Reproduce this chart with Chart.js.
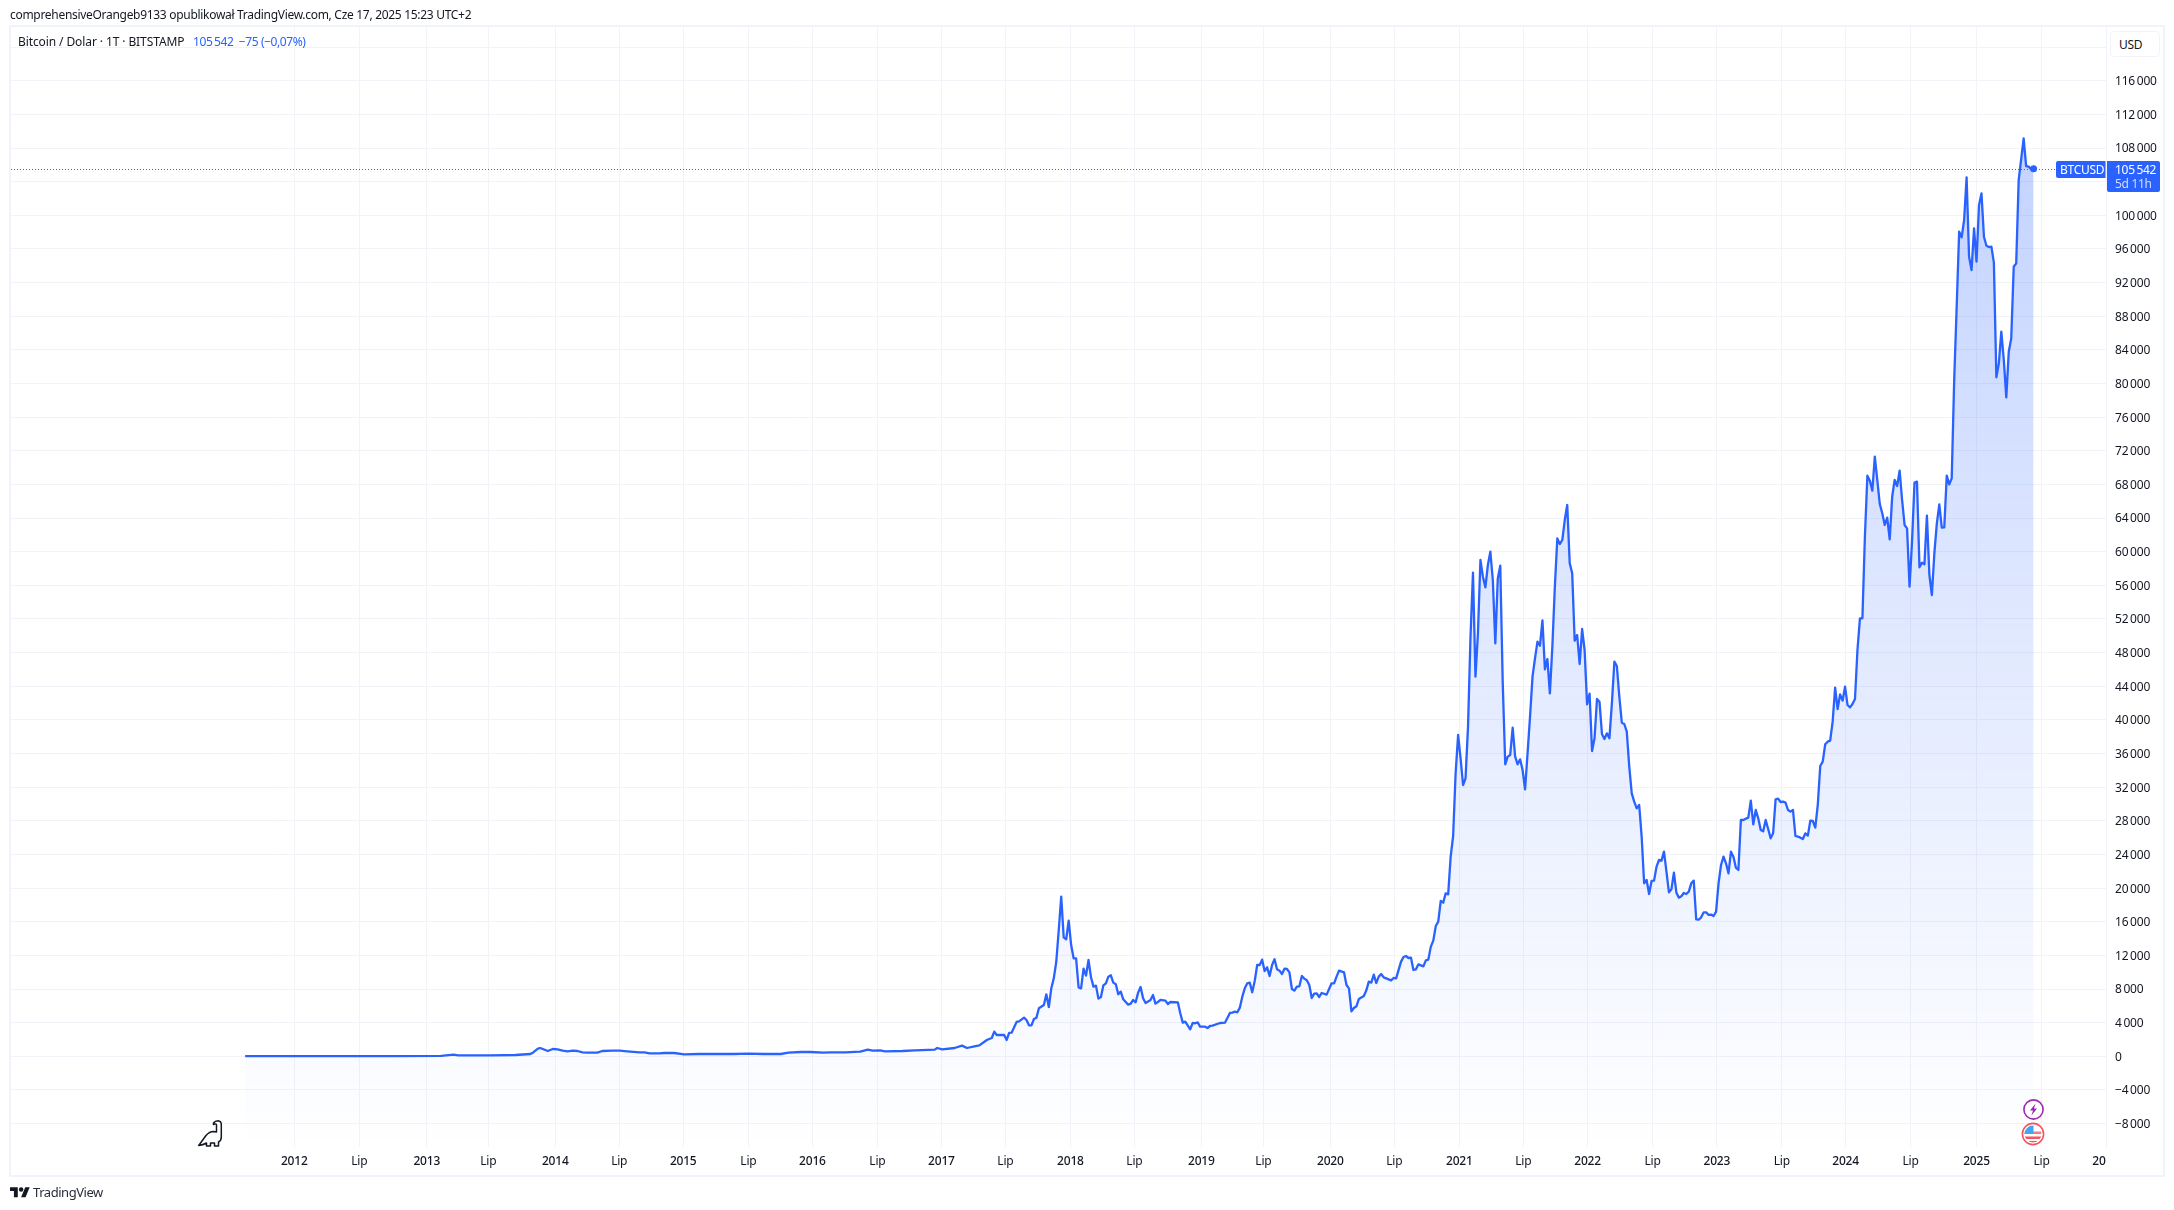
<!DOCTYPE html>
<html lang="pl">
<head>
<meta charset="utf-8">
<title>BTCUSD</title>
<script src="https://cdn.jsdelivr.net/npm/chart.js@4/dist/chart.umd.min.js"></script>
<style>
  html, body { margin: 0; padding: 0; background: #fff; }
  body { position: relative; width: 2174px; height: 1210px; overflow: hidden; font-family: "Noto Sans", sans-serif; color: #131722; }
  canvas { position: absolute; left: 0; top: 0; }
  .frame { position: absolute; left: 9px; top: 25px; width: 2152px; height: 1148px; border: 2px solid #f0f3fa; }
  .txt { position: absolute; white-space: pre; font-size: 12px; line-height: 16px; }
  .btn { position: absolute; left: 2110px; top: 31px; width: 48px; height: 24px; border: 1px solid #f0f3fa; border-radius: 4px; font-size: 12px; line-height: 26px; text-indent: 8px; letter-spacing: -0.3px; background: #fff; }
  svg { position: absolute; overflow: visible; }
</style>
</head>
<body>
<div class="frame"></div>
<canvas id="chart" width="2174" height="1210"></canvas>
<div class="txt" style="left:10px;top:7px;letter-spacing:-0.3px">comprehensiveOrangeb9133 opublikował TradingView.com, Cze 17, 2025 15:23 UTC+2</div>
<div class="txt" style="left:18px;top:34px;letter-spacing:-0.1px">Bitcoin / Dolar · 1T · BITSTAMP</div>
<div class="txt" style="left:193px;top:34px;color:#2962ff;letter-spacing:-0.4px">105&#8201;542  −75 (−0,07%)</div>
<div class="btn">USD</div>
<div class="txt" style="left:33px;top:1183px;font-size:13px;line-height:18px;letter-spacing:-0.45px;color:#2a2e39">TradingView</div>

<!-- dino -->
<svg style="left:198px;top:1120px" width="25" height="27" viewBox="0 0 25 27">
  <path d="M0.7 25.5 L8 15.5 Q11.5 11.5 15.5 11.5 L18.5 12 L18.5 5 Q18.5 3.5 17 4 L15.5 4.5 L15.5 3 Q17 0.8 20 0.8 Q23.3 1 23.3 5 L23.3 17 Q23.3 20.5 20.5 22 L20.5 26 L16.5 26 L16.5 23 L12.5 23 L12.5 26 L8.5 26 L8.5 23 Q5 25 0.7 25.5 Z" fill="#fff" stroke="#131722" stroke-width="1.5" stroke-linejoin="round"/>
</svg>
<!-- tradingview logo -->
<svg style="left:10px;top:1185px" width="20" height="15.5" viewBox="0 0 36 28">
  <path d="M14 22H7V11H0V4h14v18zM28 22h-8l7.5-18h8L28 22z" fill="#131722"/><circle cx="20" cy="8" r="4" fill="#131722"/>
</svg>
<!-- event markers -->
<svg style="left:2022px;top:1098px" width="23" height="23" viewBox="0 0 23 23">
  <circle cx="11.5" cy="11.5" r="9.6" fill="#fff" stroke="#9c27b0" stroke-width="1.6"/>
  <path d="M13.5 5.5 L8 12.5 L11 12.5 L9.5 17.5 L15 10.5 L12 10.5 Z" fill="#9c27b0"/>
</svg>
<svg style="left:2021px;top:1122px" width="24" height="24" viewBox="0 0 24 24">
  <clipPath id="flagClip"><circle cx="12" cy="12" r="8.5"/></clipPath>
  <circle cx="12" cy="12" r="10.6" fill="#fff" stroke="#f7525f" stroke-width="1.6"/>
  <g clip-path="url(#flagClip)">
    <rect x="3" y="3" width="18" height="18" fill="#fff"/>
    <rect x="3" y="9.5" width="18" height="2.5" fill="#f77c80"/>
    <rect x="3" y="14.5" width="18" height="2.5" fill="#f7525f"/>
    <rect x="3" y="19" width="18" height="2.5" fill="#f7525f"/>
    <rect x="3" y="3" width="9.5" height="9" fill="#42a5f5"/>
  </g>
</svg>

<script>
// Weekly BTC close. Flat stretches keep only their corner weeks.
const lowWeeks = [1, 12, 30, 60, 80, 82, 85, 87, 100, 110, 116, 117, 119, 120, 122, 123, 125, 127, 129, 131,
  133, 135, 137, 139, 143, 145, 149, 152, 155, 160, 162, 164, 168, 170, 174, 178, 184, 191, 198, 204,
  210, 217, 220, 225, 229, 234, 237, 243, 249, 252, 254, 257, 259, 266, 271, 279, 280, 282, 287, 290,
  292, 295, 297, 300, 302, 303, 304];
const lowPrices = [30, 10, 15, 30, 40, 115, 195, 115, 100, 155, 274, 432, 908, 987, 749, 630, 868, 828, 670, 591,
  670, 630, 472, 432, 432, 630, 670, 670, 591, 472, 472, 353, 353, 393, 393, 234, 274, 274, 274, 313,
  274, 274, 432, 512, 512, 432, 472, 472, 551, 789, 670, 710, 591, 630, 710, 789, 987, 829, 987, 1265,
  987, 1185, 1304, 1938, 2176, 2929, 2533];

const midWeeks = [305, 307, 308, 309, 310, 312, 313, 315, 316, 317, 318, 319, 320, 321, 323, 324, 325, 326, 327, 328,
  329, 330, 331, 332, 333, 334, 335, 336, 337, 338, 339, 340, 341, 342, 343, 344, 345, 346, 347, 348,
  349, 350, 351, 352, 353, 354, 355, 356, 357, 358, 359, 360, 361, 362, 363, 364, 366, 367, 368, 369,
  370, 372, 373, 374, 377, 378, 379, 380, 382, 383, 384, 385, 386, 388, 389, 390, 391, 394, 396, 398,
  399, 400, 401, 402, 403, 404, 405, 406, 407, 408, 409, 410, 411, 412, 413, 414, 415, 416, 417, 418,
  419, 420, 421, 422, 423, 424, 425, 426, 427, 428, 429, 430, 431, 432, 433, 434, 435, 437, 439, 440,
  441, 442, 444, 445, 446, 447, 448, 449, 450, 452, 453, 454, 455, 456, 457, 458, 459, 460, 462, 463,
  464, 465, 467, 468, 469, 470, 471, 472, 473, 474, 476, 477, 478, 479, 480, 481, 482, 483, 484, 485, 486];
const midPrices = [2535, 2535, 1941, 2773, 2813, 4081, 4160, 4596, 4319, 3685, 3685, 4437, 4596, 5706, 6102, 7370, 5864, 8083, 9272, 11245,
  15019, 18982, 14147, 13909, 16128, 13235, 11650, 11650, 8202, 8083, 10422, 9590, 11452, 9391, 8282, 8400, 6855, 7053, 8440, 8678,
  9470, 9629, 8757, 8559, 7370, 7687, 6776, 6459, 6141, 6260, 6696, 6419, 7568, 8242, 6895, 6340, 6696, 7291, 6260, 6459,
  6696, 6617, 6220, 6459, 6419, 5111, 4001, 4121, 3209, 3962, 3923, 4041, 3526, 3526, 3367, 3605, 3645, 3962, 4001, 5151,
  5190, 5309, 5230, 5785, 7092, 8083, 8678, 8757, 7608, 8956, 10858, 10858, 11492, 10144, 10580, 9550, 10858, 11532, 10342, 10184,
  9788, 10422, 10382, 9986, 8005, 7806, 8282, 8321, 9550, 9233, 9035, 8480, 6934, 7450, 7489, 7053, 7529, 7331, 8678, 8678,
  9470, 10184, 9986, 8480, 8083, 5349, 5745, 5944, 6815, 7172, 7846, 8876, 8757, 9708, 8718, 9470, 9788, 9391, 9153, 9035,
  9312, 9272, 11254, 11809, 11928, 11690, 11729, 10263, 10342, 10936, 10699, 11412, 11492, 13037, 13751, 15494, 16009, 18466, 18268, 19378, 19259];

const peakWeeks = [487, 488, 489, 490, 491, 492, 493, 494, 495, 496, 497, 498, 499, 500, 501, 502, 503, 504, 505, 506,
  507, 508, 509, 510, 511, 512, 513, 514, 515, 516, 517, 518, 519, 520, 521, 522, 523, 524, 525, 526,
  527, 528, 529, 530, 531, 532, 533, 534, 535, 536, 537, 538, 539, 540, 541, 542, 543, 544, 545, 546,
  547, 548, 549, 550, 551, 552, 553, 554, 555, 556, 557, 558, 559, 560, 561, 562, 563, 564, 565, 566,
  567, 568, 569, 570, 571, 572, 573, 574, 575, 576, 577, 578, 579, 580, 581, 582, 583, 584, 585];
const peakPrices = [23740, 26196, 33648, 38205, 35431, 32261, 33053, 39196, 49896, 57505, 45140, 50292, 59011, 57030, 55761, 58416, 60002, 56633, 49103, 56831,
  58337, 44348, 34717, 35629, 35827, 39077, 35629, 34717, 35312, 34043, 31745, 36026, 40385, 45140, 47320, 49302, 48826, 51838, 46012, 47241,
  43159, 48707, 55840, 61587, 60913, 61389, 63767, 65550, 58615, 57426, 49420, 50094, 46647, 50807, 48311, 41851, 43119, 36303, 37809, 42485,
  42168, 38324, 37730, 38404, 37809, 41970, 46923, 46409, 42762, 39672, 39513, 38602, 34440, 31270, 30279, 29487, 29883, 26118, 20569, 20965,
  19301, 20846, 20886, 22551, 23343, 23264, 24334, 21956, 19499, 19855, 21837, 19460, 18866, 19024, 19420, 19301, 19579, 20569, 20886];

const riseWeeks = [586, 587, 588, 589, 590, 591, 592, 593, 594, 595, 596, 597, 598, 599, 600, 601, 602, 603, 604, 605,
  606, 607, 608, 609, 610, 611, 612, 613, 614, 615, 616, 617, 618, 619, 620, 621, 622, 623, 624, 625,
  626, 627, 628, 629, 630, 631, 632, 633, 634, 635, 636, 637, 638, 639, 640, 641, 642, 643, 644, 645,
  646, 647, 648, 649, 650, 651];
const risePrices = [16288, 16250, 16527, 17120, 17120, 16804, 16845, 16685, 17199, 20568, 22748, 23738, 22945, 21757, 24333, 23738, 22431, 22154, 28098, 28098,
  28256, 28375, 30396, 27583, 29287, 28296, 26909, 26750, 28098, 27028, 25918, 26513, 30555, 30634, 30238, 30278, 30159, 29287, 29089, 29287,
  26195, 26116, 25997, 25839, 26513, 26236, 28018, 27979, 27187, 29881, 34518, 35033, 37094, 37411, 37530, 39788, 43831, 41295, 43038, 42285,
  43950, 41770, 41493, 41889, 42484, 48309];

const topWeeks = [652, 653, 654, 655, 656, 657, 658, 659, 660, 661, 662, 663, 664, 665, 666, 667, 668, 669, 670, 671,
  672, 673, 674, 675, 676, 677, 678, 679, 680, 681, 682, 683, 684, 685, 686, 687, 688, 689, 690, 691,
  692, 693, 694, 695, 696, 697, 698, 699, 700, 701, 702, 703, 704, 705, 706, 707, 708, 709, 710, 711,
  712, 713, 714, 715, 716, 718, 719, 720, 721, 722];
const topPrices = [52079, 52079, 61788, 69040, 68446, 67257, 71299, 68525, 65672, 64563, 63177, 64048, 61472, 66544, 68525, 67812, 69635, 66148, 63177, 62779,
  55844, 61194, 68208, 68327, 58142, 58698, 58500, 64284, 57231, 54853, 59807, 63373, 65632, 62858, 62897, 69040, 68010, 68723, 80414, 89133,
  98050, 97376, 99437, 104510, 95078, 93492, 98446, 94483, 101220, 102607, 97455, 96385, 96227, 96267, 94364, 80732, 82396, 86161, 82792, 78354,
  83783, 85369, 93889, 94285, 104193, 109146, 105857, 105778, 105500, 105542];

const weeks = [...lowWeeks, ...midWeeks, ...peakWeeks, ...riseWeeks, ...topWeeks];
const prices = [...lowPrices, ...midPrices, ...peakPrices, ...risePrices, ...topPrices];

const lastPrice = 105542;
const lastPriceText = "105\u2009542";
const countdownText = "5d 11h";
const symbolText = "BTCUSD";

const timeTickWeeks = [20.8, 47.0, 74.2, 99.0, 126.0, 151.8, 177.6, 203.9, 229.7, 255.9, 281.7, 307.5, 333.7, 359.5, 386.5, 411.5,
  438.5, 464.3, 490.5, 516.3, 542.2, 568.4, 594.3, 620.5, 646.2, 672.4, 699.0, 725.2, 751.2];
const timeTickLabels = ["2012", "Lip", "2013", "Lip", "2014", "Lip", "2015", "Lip", "2016", "Lip", "2017", "Lip", "2018", "Lip", "2019", "Lip",
  "2020", "Lip", "2021", "Lip", "2022", "Lip", "2023", "Lip", "2024", "Lip", "2025", "Lip", "20"];

const priceTicks = [120000, 116000, 112000, 108000, 104000, 100000, 96000, 92000, 88000, 84000, 80000, 76000, 72000, 68000, 64000, 60000,
  56000, 52000, 48000, 44000, 40000, 36000, 32000, 28000, 24000, 20000, 16000, 12000, 8000, 4000, 0, -4000, -8000];
const priceTickLabels = ["", "116\u2009000", "112\u2009000", "108\u2009000", "104\u2009000", "100\u2009000", "96\u2009000", "92\u2009000", "88\u2009000", "84\u2009000", "80\u2009000",
  "76\u2009000", "72\u2009000", "68\u2009000", "64\u2009000", "60\u2009000", "56\u2009000", "52\u2009000", "48\u2009000", "44\u2009000", "40\u2009000", "36\u2009000", "32\u2009000",
  "28\u2009000", "24\u2009000", "20\u2009000", "16\u2009000", "12\u2009000", "8\u2009000", "4\u2009000", "0", "−4\u2009000", "−8\u2009000"];

const BLUE = "#2962ff";
const GRID = "#f1f3f8";
const FONT = '"Noto Sans", sans-serif';

// Dotted last-price line plus the two blue tags on the price axis
const lastPriceTag = {
  id: "lastPriceTag",
  beforeDraw(chart) {
    // Noto runs a bit wider than the reference font
    chart.ctx.letterSpacing = "-0.2px";
  },
  afterDraw(chart) {
    const { ctx, chartArea, scales } = chart;
    const y = Math.round(scales.y.getPixelForValue(lastPrice));
    const tagLeft = chartArea.right - 50;
    ctx.save();
    ctx.strokeStyle = BLUE;
    ctx.lineWidth = 1;
    ctx.setLineDash([1, 2]);
    ctx.beginPath();
    ctx.moveTo(chartArea.left, y + 0.5);
    ctx.lineTo(tagLeft, y + 0.5);
    ctx.stroke();
    ctx.setLineDash([]);

    ctx.fillStyle = BLUE;
    ctx.beginPath();
    ctx.roundRect(tagLeft, y - 8, 49.5, 17, [2, 0, 0, 2]);
    ctx.fill();
    ctx.beginPath();
    ctx.roundRect(chartArea.right + 1, y - 8, 53, 31, [0, 2, 2, 2]);
    ctx.fill();

    ctx.textBaseline = "middle";
    ctx.textAlign = "left";
    ctx.font = `12px ${FONT}`;
    ctx.fillStyle = "#fff";
    ctx.letterSpacing = "-0.3px";
    ctx.fillText(symbolText, tagLeft + 4, y + 1.5);
    ctx.fillText(lastPriceText, chartArea.right + 9, y + 1.5);
    ctx.fillStyle = "#d4ddff";
    ctx.fillText(countdownText, chartArea.right + 9, y + 15.5);

    // the last time label is cut off against the price axis
    const tx = scales.x.getPixelForValue(timeTickWeeks[timeTickWeeks.length - 1]);
    ctx.textAlign = "right";
    ctx.font = `500 12px ${FONT}`;
    ctx.fillStyle = "#131722";
    ctx.fillText(timeTickLabels[timeTickLabels.length - 1], tx - 0.5, scales.x.top + 15);
    ctx.restore();
  }
};

new Chart(document.getElementById("chart"), {
  type: "line",
  data: {
    datasets: [{
      data: weeks.map((w, i) => ({ x: w, y: prices[i] })),
      borderColor: BLUE,
      borderWidth: 2.3,
      borderJoinStyle: "round",
      tension: 0,
      fill: "start",
      backgroundColor(ctx) {
        const chart = ctx.chart;
        if (!chart.chartArea) return "rgba(41,98,255,0.1)";
        const top = chart.scales.y.getPixelForValue(Math.max(...prices));
        const g = chart.ctx.createLinearGradient(0, top, 0, chart.chartArea.bottom);
        g.addColorStop(0, "rgba(41,98,255,0.28)");
        g.addColorStop(1, "rgba(41,98,255,0)");
        return g;
      },
      pointRadius: ctx => (ctx.dataIndex === weeks.length - 1 ? 3.5 : 0),
      pointBackgroundColor: BLUE,
      pointBorderWidth: 0
    }]
  },
  options: {
    responsive: false,
    animation: false,
    layout: { padding: { left: 11, top: 27, right: 0, bottom: 0 } },
    plugins: { legend: { display: false }, tooltip: { enabled: false } },
    scales: {
      x: {
        type: "linear",
        min: -93.4,
        max: 751.2,
        grid: { color: GRID, drawTicks: false },
        border: { display: false },
        afterFit(scale) { scale.height = 63; },
        afterBuildTicks(scale) { scale.ticks = timeTickWeeks.map(value => ({ value })); },
        ticks: {
          autoSkip: false,
          maxRotation: 0,
          padding: 7,
          color: "#131722",
          font: ctx => ({ family: FONT, size: 12, weight: ctx.index % 2 === 0 ? "500" : "400" }),
          callback: (value, i) => (i === timeTickLabels.length - 1 ? "" : timeTickLabels[i])
        }
      },
      y: {
        position: "right",
        min: -10785,
        max: 122390,
        grid: { color: GRID, drawTicks: false },
        border: { display: true, color: "#f0f3fa" },
        afterFit(scale) { scale.width = 68; },
        afterBuildTicks(scale) { scale.ticks = priceTicks.map(value => ({ value })); },
        ticks: {
          padding: 9,
          labelOffset: 1,
          crossAlign: "near",
          color: "#131722",
          font: { family: FONT, size: 12 },
          callback: (value, i) => priceTickLabels[i]
        }
      }
    }
  },
  plugins: [lastPriceTag]
});
</script>
</body>
</html>
